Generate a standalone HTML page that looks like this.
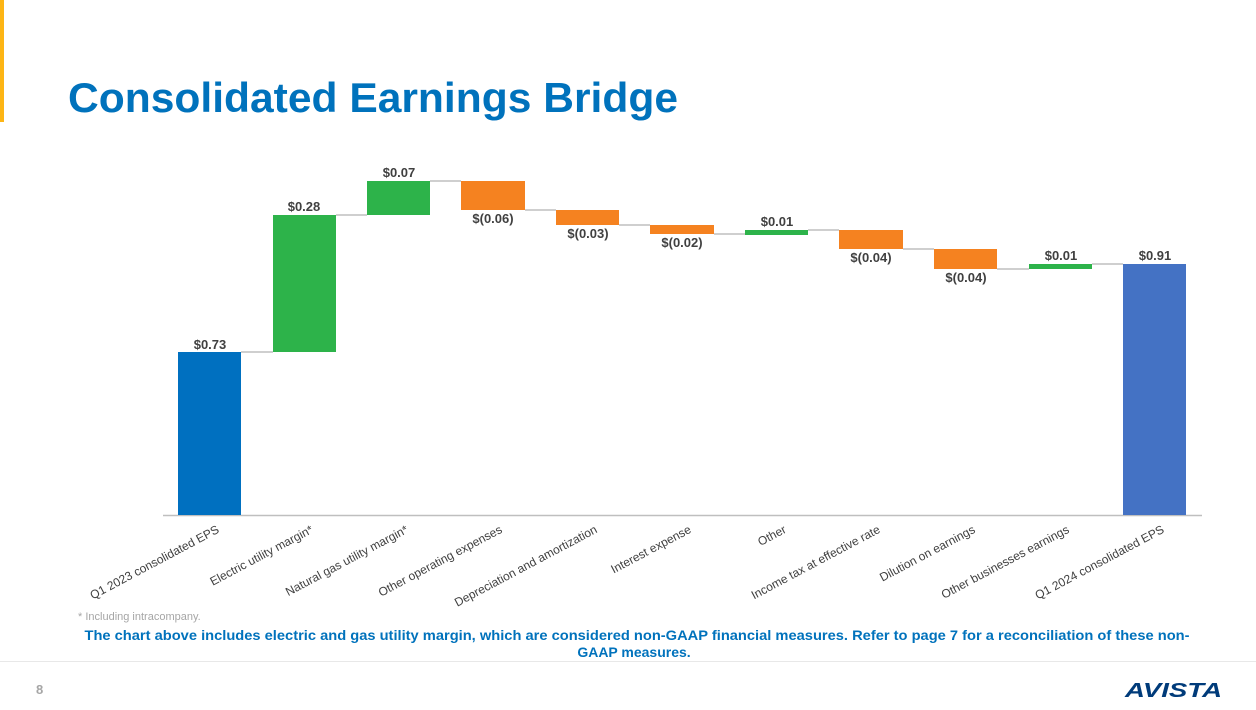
<!DOCTYPE html><html><head><style>body{margin:0;width:1256px;height:705px;background:#fff;overflow:hidden;font-family:"Liberation Sans",sans-serif}</style></head><body>
<svg width="1256" height="705" xmlns="http://www.w3.org/2000/svg" font-family="Liberation Sans, sans-serif">
<rect x="0" y="0" width="4" height="122" fill="#FDB515"/>
<text x="68" y="112" font-size="42" font-weight="bold" fill="#0072BC" textLength="610" lengthAdjust="spacingAndGlyphs">Consolidated Earnings Bridge</text>
<g stroke="#BFBFBF" stroke-width="1.5">
<line x1="241" y1="352" x2="273" y2="352"/><line x1="336" y1="215" x2="367" y2="215"/>
<line x1="430" y1="181" x2="461" y2="181"/><line x1="525" y1="210" x2="556" y2="210"/>
<line x1="619" y1="225" x2="650" y2="225"/><line x1="714" y1="234" x2="745" y2="234"/>
<line x1="808" y1="230" x2="839" y2="230"/><line x1="903" y1="249" x2="934" y2="249"/>
<line x1="997" y1="269" x2="1029" y2="269"/><line x1="1092" y1="264" x2="1123" y2="264"/>
<line x1="163" y1="515.5" x2="1202" y2="515.5"/>
</g>
<rect x="178" y="352" width="63" height="163" fill="#0070C0"/>
<rect x="273" y="215" width="63" height="137" fill="#2DB34A"/>
<rect x="367" y="181" width="63" height="34" fill="#2DB34A"/>
<rect x="461" y="181" width="64" height="29" fill="#F58220"/>
<rect x="556" y="210" width="63" height="15" fill="#F58220"/>
<rect x="650" y="225" width="64" height="9" fill="#F58220"/>
<rect x="745" y="230" width="63" height="5" fill="#2DB34A"/>
<rect x="839" y="230" width="64" height="19" fill="#F58220"/>
<rect x="934" y="249" width="63" height="20" fill="#F58220"/>
<rect x="1029" y="264" width="63" height="5" fill="#2DB34A"/>
<rect x="1123" y="264" width="63" height="251" fill="#4472C4"/>
<g font-size="13" font-weight="bold" fill="#404040" text-anchor="middle">
<text x="210" y="349">$0.73</text><text x="304" y="211">$0.28</text><text x="399" y="177">$0.07</text>
<text x="493" y="223">$(0.06)</text><text x="588" y="238">$(0.03)</text><text x="682" y="247">$(0.02)</text>
<text x="777" y="226">$0.01</text><text x="871" y="262">$(0.04)</text><text x="966" y="282">$(0.04)</text>
<text x="1061" y="260">$0.01</text><text x="1155" y="260">$0.91</text>
</g>
<g font-size="12" fill="#404040" text-anchor="end">
<text transform="translate(220,532) rotate(-28)">Q1 2023 consolidated EPS</text>
<text transform="translate(314,532) rotate(-28)">Electric utility margin*</text>
<text transform="translate(409,532) rotate(-28)">Natural gas utility margin*</text>
<text transform="translate(503,532) rotate(-28)">Other operating expenses</text>
<text transform="translate(598,532) rotate(-28)">Depreciation and amortization</text>
<text transform="translate(692,532) rotate(-28)">Interest expense</text>
<text transform="translate(787,532) rotate(-28)">Other</text>
<text transform="translate(881,532) rotate(-28)">Income tax at effective rate</text>
<text transform="translate(976,532) rotate(-28)">Dilution on earnings</text>
<text transform="translate(1070,532) rotate(-28)">Other businesses earnings</text>
<text transform="translate(1165,532) rotate(-28)">Q1 2024 consolidated EPS</text>
</g>
<text x="78" y="620" font-size="11" fill="#A6A6A6">* Including intracompany.</text>
<g font-size="14" font-weight="bold" fill="#0072BC" text-anchor="middle">
<text x="637" y="640" textLength="1105" lengthAdjust="spacingAndGlyphs">The chart above includes electric and gas utility margin, which are considered non-GAAP financial measures. Refer to page 7 for a reconciliation of these non-</text>
<text x="634" y="657">GAAP measures.</text>
</g>
<line x1="0" y1="661.5" x2="1256" y2="661.5" stroke="#E8E8E8"/>
<text x="36" y="694" font-size="13" font-weight="bold" fill="#A6A6A6">8</text>
<text x="1125" y="697" font-size="20" font-weight="bold" font-style="italic" fill="#003B7A" textLength="97" lengthAdjust="spacingAndGlyphs">AVISTA</text>
</svg>
</body></html>
